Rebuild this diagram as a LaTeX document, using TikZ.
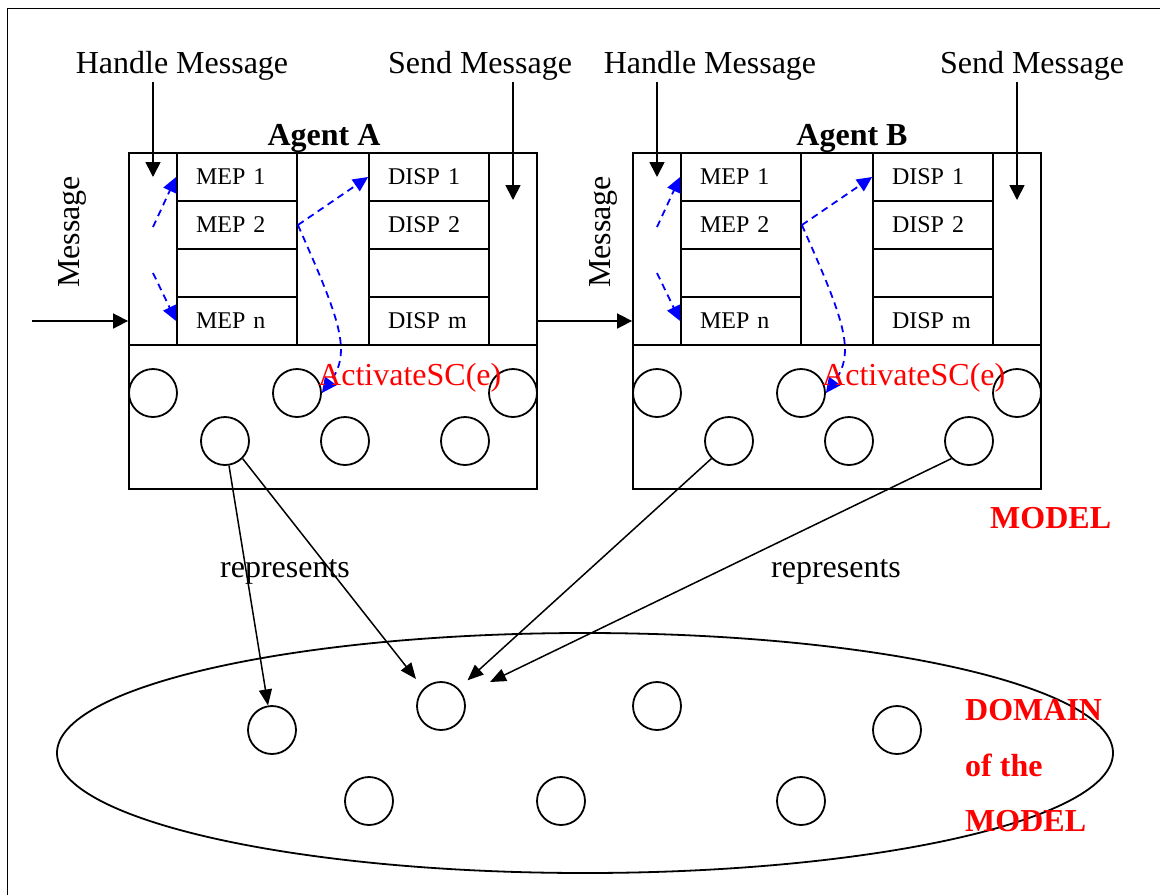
\documentclass[tikz,border=0pt]{standalone}
\usepackage{fontspec}
\setmainfont{Liberation Serif}
\usetikzlibrary{arrows.meta,shapes.geometric,calc}

\begin{document}
\begin{tikzpicture}[x=1pt,y=-1pt,
  big/.style={font=\fontsize{32}{38}\selectfont, inner sep=0pt},
  bigb/.style={font=\fontsize{32}{38}\selectfont\bfseries, inner sep=0pt},
  frame/.style={draw, line width=1.8pt, inner sep=0pt},
  cell/.style={frame, minimum height=48pt, text width=82pt, inner xsep=19pt,
    align=left, font=\fontsize{24}{28}\selectfont},
  dot/.style={draw, circle, line width=1.8pt, minimum size=48pt, inner sep=0pt},
  arr/.style={line width=1.7pt, -{Triangle[length=15pt,width=15pt]}},
  rarr/.style={line width=1.5pt, -{Triangle[length=16pt,width=13pt]}},
  bl/.style={blue, line width=1.8pt, dash pattern=on 7pt off 5pt,
    -{Triangle[length=15pt,width=14pt]}}]

\useasboundingbox (0,0) rectangle (1160,895);
\fill[white] (0,0) rectangle (1160,895);

% page frame
\draw[line width=1.6pt] (7.5,895) -- (7.5,8.5) -- (1160,8.5);

% the two agents
\foreach \ag/\dx in {A/0,B/504} {
\begin{scope}[shift={(\dx,0)}]
  % message handling strip, middle strip, sending strip
  \node[frame, minimum width=48pt, minimum height=192pt] (\ag hin) at (153,249) {};
  \node[frame, minimum width=72pt, minimum height=192pt] (\ag mid) at (333,249) {};
  \node[frame, minimum width=48pt, minimum height=192pt] (\ag out) at (513,249) {};
  % message processors
  \node[cell] (\ag mep1) at (237,177) {MEP 1};
  \node[cell] (\ag mep2) at (237,225) {MEP 2};
  \node[cell] (\ag mep3) at (237,273) {};
  \node[cell] (\ag mepn) at (237,321) {MEP n};
  % dispatchers
  \node[cell] (\ag disp1) at (429,177) {DISP 1};
  \node[cell] (\ag disp2) at (429,225) {DISP 2};
  \node[cell] (\ag disp3) at (429,273) {};
  \node[cell] (\ag dispm) at (429,321) {DISP m};
  % state components
  \node[frame, minimum width=408pt, minimum height=144pt] (\ag sc) at (333,417) {};
  \foreach \i/\x/\y in {1/153/393, 2/297/393, 3/513/393, 4/225/441, 5/345/441, 6/465/441}
    \node[dot] (\ag c\i) at (\x,\y) {};
  % internal flow
  \coordinate (\ag hs1) at (153,227);
  \coordinate (\ag hs2) at (153,273);
  \draw[bl] (\ag hs1) -- (\ag mep1.west);
  \draw[bl] (\ag hs2) -- (\ag mepn.west);
  \draw[bl] (\ag mep2.east) -- (\ag disp1.west);
  \draw[bl] (\ag mep2.east) .. controls (340,320) and (352,352) .. (\ag c2.east);
  \node[big, text=red, anchor=base west] (\ag act) at (318,385) {ActivateSC(e)};
\end{scope}
}

% labels above the agents
\node[big, anchor=base] (hmA) at (182,73) {Handle Message};
\node[big, anchor=base] (smA) at (480,73) {Send Message};
\node[big, anchor=base] (hmB) at (710,73) {Handle Message};
\node[big, anchor=base] (smB) at (1032,73) {Send Message};
\node[bigb, anchor=base] (agA) at (324,145) {Agent A};
\node[bigb, anchor=base] (agB) at (852,145) {Agent B};
\node[big, rotate=90] (msgA) at (72,232) {Message};
\node[big, rotate=90] (msgB) at (603,232) {Message};

% handle / send arrows
\coordinate (hmAt) at (153,82);   \coordinate (hmAe) at (153,177);
\coordinate (smAt) at (513,82);   \coordinate (smAe) at (513,200);
\coordinate (hmBt) at (657,82);   \coordinate (hmBe) at (657,177);
\coordinate (smBt) at (1017,82);  \coordinate (smBe) at (1017,200);
\draw[arr] (hmAt) -- (hmAe);
\draw[arr] (smAt) -- (smAe);
\draw[arr] (hmBt) -- (hmBe);
\draw[arr] (smBt) -- (smBe);

% message flow
\coordinate (msgin) at (32,321);
\draw[arr] (msgin) -- (Ahin.west |- Amepn.center);
\draw[arr] (Aout.east |- Amepn.center) -- (Bhin.west |- Bmepn.center);

% model labels
\node[bigb, text=red, anchor=base west] (model) at (990,528) {MODEL};
\node[big, anchor=base west] (rep1) at (220,577) {represents};
\node[big, anchor=base west] (rep2) at (771,577) {represents};

% domain of the model
\node[draw, ellipse, line width=1.8pt, minimum width=1056pt, minimum height=240pt] (domain) at (585,753) {};
\foreach \i/\x/\y in {1/272/730, 2/441/706, 3/657/706, 4/897/730, 5/369/801, 6/561/801, 7/801/801}
  \node[dot] (d\i) at (\x,\y) {};
\node[bigb, text=red, anchor=base west] (dl1) at (965,720) {DOMAIN};
\node[bigb, text=red, anchor=base west] (dl2) at (965,776) {of the};
\node[bigb, text=red, anchor=base west] (dl3) at (965,831) {MODEL};

% representation links
\coordinate (d2tip) at (490,682);
\draw[rarr] (Ac4) -- (d1);
\draw[rarr, shorten >=12pt] (Ac4.-45) -- (d2.135);
\draw[rarr, shorten >=12pt] (Bc4.225) -- (d2.45);
\draw[rarr] (Bc6.225) -- (d2tip);

\end{tikzpicture}
\end{document}
